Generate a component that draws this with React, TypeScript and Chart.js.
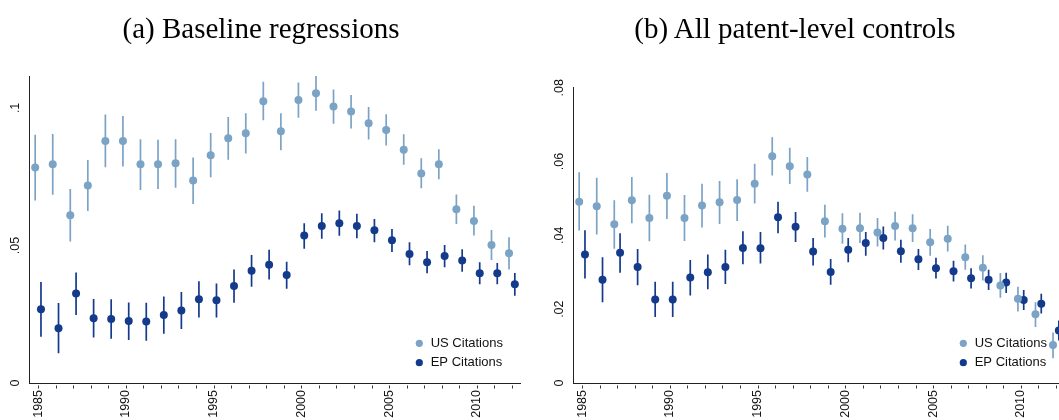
import React, { useEffect, useRef } from "react";
import { Chart, registerables } from "chart.js";

Chart.register(...registerables);

// ---------- data ----------
const years = [
  1985, 1986, 1987, 1988, 1989, 1990, 1991, 1992, 1993, 1994, 1995, 1996, 1997, 1998,
  1999, 2000, 2001, 2002, 2003, 2004, 2005, 2006, 2007, 2008, 2009, 2010, 2011, 2012,
];
const labeledYears = [1985, 1990, 1995, 2000, 2005, 2010];
const seriesLabels = ["US Citations", "EP Citations"];

// Panel (a) Baseline regressions
const aUS = [
  0.0783, 0.0795, 0.061, 0.0718, 0.088, 0.088, 0.0795, 0.0795, 0.0799, 0.0736, 0.0828, 0.089, 0.0908, 0.1024,
  0.0915, 0.1029, 0.1053, 0.1005, 0.0987, 0.0944, 0.092, 0.0848, 0.0762, 0.0795, 0.0632, 0.0589, 0.0502, 0.0472,
];
const aUSLo = [
  0.0663, 0.0684, 0.0514, 0.0625, 0.0784, 0.0787, 0.0702, 0.0705, 0.071, 0.0651, 0.0748, 0.0812, 0.0834, 0.0955,
  0.0846, 0.0964, 0.099, 0.0942, 0.0925, 0.0885, 0.0863, 0.0793, 0.0708, 0.0741, 0.0578, 0.0536, 0.0447, 0.0413,
];
const aUSHi = [
  0.0902, 0.0905, 0.0705, 0.0811, 0.0976, 0.0971, 0.0886, 0.0884, 0.0886, 0.082, 0.0909, 0.0967, 0.0981, 0.1095,
  0.0981, 0.1092, 0.1116, 0.1067, 0.1047, 0.1003, 0.0977, 0.0904, 0.0817, 0.085, 0.0685, 0.0644, 0.0556, 0.053,
];
const aEP = [
  0.0268, 0.0199, 0.0325, 0.0235, 0.0233, 0.0225, 0.0224, 0.0247, 0.0264, 0.0304, 0.0301, 0.0353, 0.0408, 0.043,
  0.0393, 0.0536, 0.0571, 0.0581, 0.0571, 0.0555, 0.0519, 0.0469, 0.0439, 0.0462, 0.0445, 0.0399, 0.0399, 0.0359,
];
const aEPLo = [
  0.0168, 0.0108, 0.0247, 0.0165, 0.0161, 0.0156, 0.0154, 0.0179, 0.0196, 0.0238, 0.0238, 0.0292, 0.035, 0.0376,
  0.0343, 0.0488, 0.0524, 0.0535, 0.0526, 0.0512, 0.0476, 0.0428, 0.0399, 0.0421, 0.0404, 0.0359, 0.0359, 0.0317,
];
const aEPHi = [
  0.0367, 0.0291, 0.0402, 0.0305, 0.0304, 0.0293, 0.0292, 0.0314, 0.0331, 0.037, 0.0362, 0.0413, 0.0465, 0.0484,
  0.0441, 0.0581, 0.0617, 0.0627, 0.0615, 0.0596, 0.056, 0.0512, 0.048, 0.0502, 0.0486, 0.0439, 0.0436, 0.04,
];
const aYTicks = [0, 0.05, 0.1];

// Panel (b) All patent-level controls
const bUS = [
  0.0491, 0.0479, 0.043, 0.0495, 0.0447, 0.0507, 0.0447, 0.0481, 0.049, 0.0496, 0.054, 0.0614, 0.0587, 0.0565,
  0.0438, 0.0418, 0.0419, 0.0408, 0.0425, 0.0419, 0.0381, 0.0391, 0.0341, 0.0312, 0.0264, 0.0228, 0.0186, 0.0103,
];
const bUSLo = [
  0.0413, 0.0402, 0.0364, 0.0433, 0.0384, 0.0444, 0.0385, 0.0421, 0.0431, 0.0439, 0.0486, 0.0562, 0.0539, 0.0518,
  0.0394, 0.0377, 0.0379, 0.037, 0.0386, 0.0382, 0.0345, 0.0356, 0.0307, 0.0278, 0.0231, 0.0194, 0.0152, 0.0067,
];
const bUSHi = [
  0.0571, 0.0556, 0.0495, 0.0558, 0.051, 0.0569, 0.0509, 0.054, 0.0547, 0.0552, 0.0594, 0.0666, 0.0637, 0.0612,
  0.0483, 0.046, 0.0461, 0.0447, 0.0464, 0.0457, 0.0417, 0.0426, 0.0375, 0.0346, 0.0298, 0.0261, 0.0219, 0.0137,
];
const bEP = [
  0.0348, 0.028, 0.0353, 0.0314, 0.0226, 0.0226, 0.0286, 0.03, 0.0314, 0.0366, 0.0365, 0.0449, 0.0423, 0.0356,
  0.0301, 0.0361, 0.0379, 0.0393, 0.0357, 0.0335, 0.0311, 0.0303, 0.0284, 0.028, 0.0272, 0.0225, 0.0215, 0.0142,
];
const bEPLo = [
  0.0283, 0.0219, 0.0299, 0.0265, 0.0179, 0.0179, 0.0237, 0.0254, 0.0268, 0.0322, 0.0324, 0.0406, 0.0382, 0.0318,
  0.0266, 0.0327, 0.0345, 0.0362, 0.0326, 0.0306, 0.0283, 0.0275, 0.0256, 0.0252, 0.0244, 0.0198, 0.0188, 0.0115,
];
const bEPHi = [
  0.0414, 0.0341, 0.0406, 0.0363, 0.0274, 0.0274, 0.0333, 0.0348, 0.0361, 0.0411, 0.0409, 0.0491, 0.0463, 0.0393,
  0.0336, 0.0393, 0.0409, 0.0424, 0.0388, 0.0363, 0.0339, 0.0331, 0.0311, 0.0307, 0.0299, 0.0252, 0.0242, 0.0169,
];
const bYTicks = [0, 0.02, 0.04, 0.06, 0.08];

// ---------- style ----------
const US_COLOR = "#7BA3C5";
const EP_COLOR = "#143A8C";
const AXIS_COLOR = "#222222";
const SANS = '"Liberation Sans", Arial, sans-serif';
const SERIF = '"Liberation Serif", "Times New Roman", serif';
const SERIES_SHIFT = 0.165; // horizontal dodge of the two series, in years

const fmtY = (v: number) => (v === 0 ? "0" : String(v).replace(/^0/, ""));

const errorBarsPlugin = {
  id: "errorBars",
  beforeDatasetDraw(chart: any, args: any) {
    const ds: any = chart.data.datasets[args.index];
    const meta = args.meta;
    const ys = chart.scales.y;
    const ca = chart.chartArea;
    const ctx = chart.ctx;
    ctx.save();
    ctx.beginPath();
    ctx.rect(ca.left, ca.top - 1, ca.right - ca.left, ca.bottom - ca.top + 2);
    ctx.clip();
    ctx.strokeStyle = ds.backgroundColor;
    ctx.lineWidth = 1.7;
    meta.data.forEach((pt: any, i: number) => {
      const d = ds.data[i];
      ctx.beginPath();
      ctx.moveTo(pt.x, ys.getPixelForValue(d.lo));
      ctx.lineTo(pt.x, ys.getPixelForValue(d.hi));
      ctx.stroke();
    });
    ctx.restore();
  },
};

const decorPlugin = {
  id: "decor",
  afterDraw(chart: any) {
    const ctx = chart.ctx;
    const ca = chart.chartArea;
    const ys = chart.scales.y;
    const xs = chart.scales.x;
    const yTicks: number[] = chart.options.plugins.decor.yTicks;
    ctx.save();
    // x tick marks, slightly detached from the axis line
    ctx.strokeStyle = "#333";
    ctx.lineWidth = 1;
    xs.ticks.forEach((t: any) => {
      const px = Math.round(xs.getPixelForValue(t.value)) + 0.5;
      ctx.beginPath();
      ctx.moveTo(px, ca.bottom + 2.5);
      ctx.lineTo(px, ca.bottom + 5.5);
      ctx.stroke();
    });
    // rotated y tick labels
    ctx.fillStyle = "#111";
    ctx.font = `12.5px ${SANS}`;
    ctx.textAlign = "center";
    ctx.textBaseline = "middle";
    yTicks.forEach((v) => {
      const py = ys.getPixelForValue(v);
      ctx.save();
      ctx.translate(ca.left - 13.6, py);
      ctx.rotate(-Math.PI / 2);
      ctx.fillText(fmtY(v), 0, 0);
      ctx.restore();
    });
    // legend (inside, bottom right)
    chart.data.datasets.forEach((ds: any, k: number) => {
      const cy = ca.bottom - 39.7 + k * 19.4;
      ctx.fillStyle = ds.backgroundColor;
      ctx.beginPath();
      ctx.arc(ca.right - 101.4, cy, 3.6, 0, Math.PI * 2);
      ctx.fill();
      ctx.fillStyle = "#111";
      ctx.font = `13px ${SANS}`;
      ctx.textAlign = "left";
      ctx.textBaseline = "middle";
      ctx.fillText(ds.label, ca.right - 90, cy);
    });
    ctx.restore();
  },
};

type PanelProps = {
  us: number[];
  usLo: number[];
  usHi: number[];
  ep: number[];
  epLo: number[];
  epHi: number[];
  yTicks: number[];
  yMax: number;
  topPad: number;
};

function Panel(p: PanelProps) {
  const ref = useRef<HTMLCanvasElement | null>(null);
  useEffect(() => {
    if (!ref.current) return;
    const mk = (v: number[], lo: number[], hi: number[], dx: number) =>
      years.map((yr, i) => ({ x: yr + dx, y: v[i], lo: lo[i], hi: hi[i] }));
    const chart = new Chart(ref.current, {
      type: "scatter",
      data: {
        datasets: [
          {
            label: seriesLabels[0],
            data: mk(p.us, p.usLo, p.usHi, -SERIES_SHIFT),
            backgroundColor: US_COLOR,
            borderColor: US_COLOR,
            pointRadius: 4,
            pointBorderWidth: 0,
            pointHoverRadius: 4,
          } as any,
          {
            label: seriesLabels[1],
            data: mk(p.ep, p.epLo, p.epHi, SERIES_SHIFT),
            backgroundColor: EP_COLOR,
            borderColor: EP_COLOR,
            pointRadius: 4,
            pointBorderWidth: 0,
            pointHoverRadius: 4,
          } as any,
        ],
      },
      options: {
        responsive: false,
        animation: false,
        events: [],
        layout: { padding: { left: 0, right: 9.3, top: p.topPad, bottom: 0 } },
        plugins: {
          legend: { display: false },
          tooltip: { enabled: false },
          title: { display: false },
          decor: { yTicks: p.yTicks },
        } as any,
        scales: {
          x: {
            type: "linear",
            min: 1984.5,
            max: 2012.5,
            afterBuildTicks: (s: any) => {
              s.ticks = years.map((v) => ({ value: v }));
            },
            afterFit: (s: any) => {
              s.height = 37;
            },
            ticks: {
              autoSkip: false,
              minRotation: 90,
              maxRotation: 90,
              padding: 2,
              color: "#111",
              font: { family: SANS, size: 12.5 },
              callback: (v: any) => (labeledYears.includes(Number(v)) ? String(v) : ""),
            },
            grid: {
              display: true,
              drawOnChartArea: false,
              drawTicks: true,
              tickLength: 5,
              color: "rgba(0,0,0,0)",
              lineWidth: 1,
            },
            border: { display: true, color: AXIS_COLOR, width: 1 },
          },
          y: {
            type: "linear",
            min: 0,
            max: p.yMax,
            afterBuildTicks: (s: any) => {
              s.ticks = p.yTicks.map((v) => ({ value: v }));
            },
            afterFit: (s: any) => {
              s.width = 29.3;
            },
            ticks: { display: false },
            grid: { display: true, drawOnChartArea: false, drawTicks: false },
            border: { display: true, color: AXIS_COLOR, width: 1 },
          },
        },
      } as any,
      plugins: [errorBarsPlugin, decorPlugin],
    });
    return () => chart.destroy();
  }, []);
  return <canvas ref={ref} width={530} height={420} style={{ display: "block", width: 530, height: 420 }} />;
}

const titleStyle = (center: number): React.CSSProperties => ({
  position: "absolute",
  left: center - 300,
  width: 600,
  top: 14,
  textAlign: "center",
  fontFamily: SERIF,
  fontSize: 29,
  lineHeight: "29px",
  color: "#000",
  whiteSpace: "nowrap",
});

export default function App() {
  const aMax = Math.max(...aUSHi, ...aEPHi);
  return (
    <div
      style={{
        position: "fixed",
        left: 0,
        top: 0,
        width: 1059,
        height: 420,
        overflow: "hidden",
        background: "#fff",
      }}
    >
      <div style={{ position: "absolute", left: 0, top: 0 }}>
        <Panel us={aUS} usLo={aUSLo} usHi={aUSHi} ep={aEP} epLo={aEPLo} epHi={aEPHi} yTicks={aYTicks} yMax={aMax} topPad={76} />
      </div>
      <div style={{ position: "absolute", left: 544, top: 0 }}>
        <Panel us={bUS} usLo={bUSLo} usHi={bUSHi} ep={bEP} epLo={bEPLo} epHi={bEPHi} yTicks={bYTicks} yMax={0.08} topPad={87.7} />
      </div>
      <div style={titleStyle(261)}>(a) Baseline regressions</div>
      <div style={titleStyle(795)}>(b) All patent-level controls</div>
    </div>
  );
}
